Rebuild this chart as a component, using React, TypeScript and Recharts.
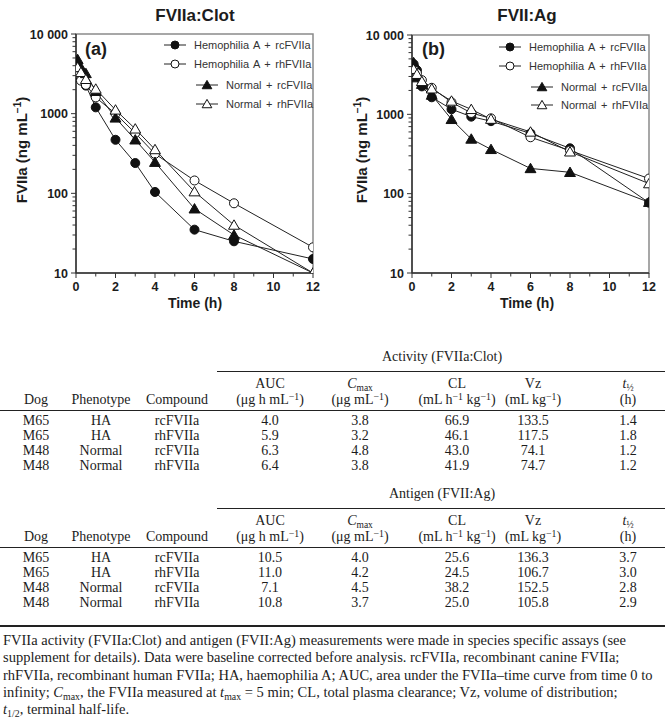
import React from 'react';
import { LineChart, Line, XAxis, YAxis, ReferenceArea } from 'recharts';

// ---------- data ----------
const times = [0.083, 0.25, 0.5, 1, 2, 3, 4, 6, 8, 12];

// FVIIa:Clot (ng/mL)
const clotHemRc = [3800, 2860, 2250, 1200, 470, 240, 104, 35, 25, 15];
const clotHemRh = [3200, 2600, 2300, 1600, 1000, 570, 313, 145, 75, 21];
const clotNorRc = [4800, 3800, 3200, 1910, 885, 470, 246, 64, 30, 10];
const clotNorRh = [3800, 3300, 2700, 2040, 1115, 645, 355, 105, 40, 10];

// FVII:Ag (ng/mL)
const agHemRc = [4300, 3600, 2250, 1640, 1160, 935, 820, 575, 373, 77];
const agHemRh = [4000, 3300, 2700, 2160, 1420, 1040, 890, 514, 350, 155];
const agNorRc = [4500, 2900, 2400, 1750, 865, 489, 362, 208, 186, 78];
const agNorRh = [3700, 3200, 2600, 2100, 1473, 1156, 870, 600, 337, 134];

const seriesNames = ['Hemophilia A + rcFVIIa', 'Hemophilia A + rhFVIIa', 'Normal + rcFVIIa', 'Normal + rhFVIIa'];
const markerTypes = ['circleFilled', 'circleOpen', 'triFilled', 'triOpen'];

const xTicks = [0, 1, 2, 3, 4, 5, 6, 7, 8, 9, 10, 11, 12];
const yDecades = [10, 100, 1000, 10000];
const yDecadeLabels = ['10', '100', '1000', '10 000'];
const yMultipliers = [1, 2, 3, 4, 5, 6, 7, 8, 9];

// table data
const dogs = ['M65', 'M65', 'M48', 'M48'];
const phenotypes = ['HA', 'HA', 'Normal', 'Normal'];
const compounds = ['rcFVIIa', 'rhFVIIa', 'rcFVIIa', 'rhFVIIa'];
const clotAUC = ['4.0', '5.9', '6.3', '6.4'];
const clotCmax = ['3.8', '3.2', '4.8', '3.8'];
const clotCL = ['66.9', '46.1', '43.0', '41.9'];
const clotVz = ['133.5', '117.5', '74.1', '74.7'];
const clotT12 = ['1.4', '1.8', '1.2', '1.2'];
const agAUC = ['10.5', '11.0', '7.1', '10.8'];
const agCmax = ['4.0', '4.2', '4.5', '3.7'];
const agCL = ['25.6', '24.5', '38.2', '25.0'];
const agVz = ['136.3', '106.7', '152.5', '105.8'];
const agT12 = ['3.7', '3.0', '2.8', '2.9'];

// ---------- helpers ----------
const yTicksAll: number[] = [];
yDecades.slice(0, 3).forEach((d) => yMultipliers.forEach((m) => yTicksAll.push(d * m)));
yTicksAll.push(10000);

function buildRows(series: number[][]) {
  return times.map((t, i) => {
    const row: any = { t };
    series.forEach((s, k) => (row['s' + k] = s[i]));
    return row;
  });
}

const SANS = '"Liberation Sans", Arial, Helvetica, sans-serif';
const SERIF = '"Liberation Serif", "Times New Roman", Times, serif';
const INK = '#1c1c1c';

function Marker({ cx, cy, type, r = 4.5 }: any) {
  if (cx == null || cy == null || isNaN(cx) || isNaN(cy)) return null;
  const filled = type.endsWith('Filled');
  const fill = filled ? '#111' : '#fff';
  if (type.startsWith('circle')) {
    return <circle cx={cx} cy={cy} r={r} fill={fill} stroke="#111" strokeWidth={1} />;
  }
  const h = r * 1.1;
  return (
    <polygon
      points={`${cx},${cy - h * 1.05} ${cx - h * 1.1},${cy + h * 0.85} ${cx + h * 1.1},${cy + h * 0.85}`}
      fill={fill}
      stroke="#111"
      strokeWidth={1}
    />
  );
}

function YTick(props: any) {
  const { x, y, payload } = props;
  const v = payload.value;
  const idx = yDecades.indexOf(v);
  const major = idx >= 0;
  return (
    <g>
      <line x1={x - (major ? 5 : 3.5)} x2={x} y1={y} y2={y} stroke="#333" strokeWidth={1} />
      {major && (
        <text x={x - 8} y={y} dy={4.5} textAnchor="end" fontFamily={SANS} fontWeight="bold" fontSize={12.5} fill={INK}>
          {yDecadeLabels[idx]}
        </text>
      )}
    </g>
  );
}

function XTick(props: any) {
  const { x, y, payload } = props;
  const v = payload.value;
  const major = v % 2 === 0;
  return (
    <g>
      <line x1={x} x2={x} y1={y} y2={y + (major ? 5 : 3.5)} stroke="#333" strokeWidth={1} />
      {major && (
        <text x={x} y={y + 18} textAnchor="middle" fontFamily={SANS} fontWeight="bold" fontSize={12.5} fill={INK}>
          {v}
        </text>
      )}
    </g>
  );
}

function LegendSwatch({ type }: any) {
  return (
    <svg width={22} height={12} style={{ display: 'block' }}>
      <line x1={0} x2={22} y1={6} y2={6} stroke="#222" strokeWidth={1} />
      <Marker cx={11} cy={6} type={type} r={4} />
    </svg>
  );
}

function PKPanel({ series, left, width, yAxisWidth, rightMargin, topMargin, title, titleX, panel, panelX, yLabelX, legendLeftA, legendLeftB, legendRows }: any) {
  const data = buildRows(series);
  const height = 310;
  return (
    <div style={{ position: 'absolute', left, top: 0, width, height }}>
      <LineChart width={width} height={height} data={data} margin={{ top: topMargin, right: rightMargin, bottom: 7, left: 0 }}>
        <ReferenceArea x1={0} x2={12} y1={10} y2={10000} fill="none" fillOpacity={0} stroke="#8a8a8a" strokeWidth={1.5} ifOverflow="visible" />
        <XAxis
          dataKey="t"
          type="number"
          domain={[0, 12]}
          ticks={xTicks}
          interval={0}
          height={30}
          tickSize={0}
          tickMargin={0}
          tick={<XTick />}
          axisLine={{ stroke: '#333', strokeWidth: 1.5 }}
          tickLine={false}
          allowDataOverflow
        />
        <YAxis
          type="number"
          scale="log"
          domain={[10, 10000]}
          ticks={yTicksAll}
          interval={0}
          width={yAxisWidth}
          tickSize={0}
          tickMargin={0}
          tick={<YTick />}
          axisLine={{ stroke: '#333', strokeWidth: 1.5 }}
          tickLine={false}
          allowDataOverflow
        />
        {markerTypes.map((mt, k) => (
          <Line
            key={mt}
            dataKey={'s' + k}
            stroke="#222"
            strokeWidth={1}
            isAnimationActive={false}
            dot={(p: any) => <Marker key={`${mt}-${p.index}`} cx={p.cx} cy={p.cy} type={mt} />}
            activeDot={false}
          />
        ))}
      </LineChart>
      {/* title */}
      <div style={{ position: 'absolute', left: titleX, top: 16, transform: 'translate(-50%, -50%)', fontFamily: SANS, fontWeight: 'bold', fontSize: 17, color: INK, whiteSpace: 'nowrap' }}>
        {title}
      </div>
      {/* panel label */}
      <div style={{ position: 'absolute', left: panelX, top: 49, transform: 'translateY(-50%)', fontFamily: SANS, fontWeight: 'bold', fontSize: 18, color: INK }}>
        {panel}
      </div>
      {/* y label */}
      <div style={{ position: 'absolute', left: yLabelX, top: 150, transform: 'translate(-50%, -50%) rotate(-90deg)', fontFamily: SANS, fontWeight: 'bold', fontSize: 15, color: INK, whiteSpace: 'nowrap' }}>
        FVIIa (ng mL<span style={{ fontSize: 10, position: 'relative', top: -6 }}>−1</span>)
      </div>
      {/* x label */}
      <div style={{ position: 'absolute', left: titleX, top: 303, transform: 'translate(-50%, -50%)', fontFamily: SANS, fontWeight: 'bold', fontSize: 14, color: INK, whiteSpace: 'nowrap' }}>
        Time (h)
      </div>
      {/* legend */}
      {seriesNames.map((name, k) => (
        <div key={name} style={{ position: 'absolute', left: k < 2 ? legendLeftA : legendLeftB, top: legendRows[k], transform: 'translateY(-50%)', display: 'flex', alignItems: 'center', fontFamily: SANS, fontSize: 11, color: '#333', whiteSpace: 'nowrap', wordSpacing: 1.5 }}>
          <LegendSwatch type={markerTypes[k]} />
          <span style={{ marginLeft: 8 }}>{name}</span>
        </div>
      ))}
    </div>
  );
}

// ---------- table ----------
const colX = { dog: 36, phen: 101, comp: 177, auc: 270, cmax: 360, cl: 457, vz: 533, t12: 628 };
const TABLE_FS = 14;

function Cell({ x, y, children, size = TABLE_FS }: any) {
  return (
    <div style={{ position: 'absolute', left: x, top: y - 8, height: 16, lineHeight: '16px', transform: 'translateX(-50%)', whiteSpace: 'nowrap', fontFamily: SERIF, fontSize: size, color: INK }}>
      {children}
    </div>
  );
}

const sup = (s: string) => <span style={{ fontSize: '0.7em', position: 'relative', top: '-0.45em' }}>{s}</span>;
const sub = (s: string) => <span style={{ fontSize: '0.68em', position: 'relative', top: '0.3em' }}>{s}</span>;

function HLine({ x1, x2, y, w = 1 }: any) {
  return <div style={{ position: 'absolute', left: x1, top: y - w / 2, width: x2 - x1, height: w, background: '#222' }} />;
}

function PKTable({ top, title, auc, cmax, cl, vz, t12 }: any) {
  const rowsY = [top + 64, top + 79, top + 94, top + 109];
  return (
    <>
      <Cell x={442} y={top}>{title}</Cell>
      <HLine x1={217} x2={665} y={top + 14} />
      <Cell x={colX.auc} y={top + 27}>AUC</Cell>
      <Cell x={colX.cmax} y={top + 27}><i>C</i>{sub('max')}</Cell>
      <Cell x={colX.cl} y={top + 27}>CL</Cell>
      <Cell x={colX.vz} y={top + 27}>Vz</Cell>
      <Cell x={colX.t12} y={top + 27}><i>t</i>{sub('½')}</Cell>
      <Cell x={colX.dog} y={top + 43}>Dog</Cell>
      <Cell x={colX.phen} y={top + 43}>Phenotype</Cell>
      <Cell x={colX.comp} y={top + 43}>Compound</Cell>
      <Cell x={colX.auc} y={top + 43}>(μg h mL{sup('−1')})</Cell>
      <Cell x={colX.cmax} y={top + 43}>(μg mL{sup('−1')})</Cell>
      <Cell x={colX.cl} y={top + 43}>(mL h{sup('−1')} kg{sup('−1')})</Cell>
      <Cell x={colX.vz} y={top + 43}>(mL kg{sup('−1')})</Cell>
      <Cell x={colX.t12} y={top + 43}>(h)</Cell>
      <HLine x1={0} x2={665} y={top + 53} />
      {dogs.map((d, i) => (
        <React.Fragment key={i}>
          <Cell x={colX.dog} y={rowsY[i]}>{d}</Cell>
          <Cell x={colX.phen} y={rowsY[i]}>{phenotypes[i]}</Cell>
          <Cell x={colX.comp} y={rowsY[i]}>{compounds[i]}</Cell>
          <Cell x={colX.auc} y={rowsY[i]}>{auc[i]}</Cell>
          <Cell x={colX.cmax} y={rowsY[i]}>{cmax[i]}</Cell>
          <Cell x={colX.cl} y={rowsY[i]}>{cl[i]}</Cell>
          <Cell x={colX.vz} y={rowsY[i]}>{vz[i]}</Cell>
          <Cell x={colX.t12} y={rowsY[i]}>{t12[i]}</Cell>
        </React.Fragment>
      ))}
    </>
  );
}

const footLines: any[] = [
  <>FVIIa activity (FVIIa:Clot) and antigen (FVII:Ag) measurements were made in species specific assays (see</>,
  <>supplement for details). Data were baseline corrected before analysis. rcFVIIa, recombinant canine FVIIa;</>,
  <>rhFVIIa, recombinant human FVIIa; HA, haemophilia A; AUC, area under the FVIIa–time curve from time 0 to</>,
  <>infinity; <i>C</i>{sub('max')}, the FVIIa measured at <i>t</i>{sub('max')} = 5 min; CL, total plasma clearance; Vz, volume of distribution;</>,
  <><i>t</i>{sub('1/2')}, terminal half-life.</>,
];

export default function App() {
  return (
    <div style={{ position: 'absolute', left: 0, top: 0, width: 665, height: 722, background: '#fff', overflow: 'hidden' }}>
      <PKPanel
        series={[clotHemRc, clotHemRh, clotNorRc, clotNorRh]}
        left={0}
        width={330}
        yAxisWidth={76}
        rightMargin={17}
        topMargin={34}
        title="FVIIa:Clot"
        titleX={195}
        panel="(a)"
        panelX={85}
        yLabelX={21}
        legendLeftA={164}
        legendLeftB={196}
        legendRows={[45, 64, 85, 104]}
      />
      <PKPanel
        series={[agHemRc, agHemRh, agNorRc, agNorRh]}
        left={330}
        width={335}
        yAxisWidth={82}
        rightMargin={16}
        topMargin={35}
        title="FVII:Ag"
        titleX={197}
        panel="(b)"
        panelX={92}
        yLabelX={31}
        legendLeftA={169}
        legendLeftB={201}
        legendRows={[47, 66, 87, 105]}
      />
      <PKTable top={357} title="Activity (FVIIa:Clot)" auc={clotAUC} cmax={clotCmax} cl={clotCL} vz={clotVz} t12={clotT12} />
      <PKTable top={494} title="Antigen (FVII:Ag)" auc={agAUC} cmax={agCmax} cl={agCL} vz={agVz} t12={agT12} />
      <HLine x1={0} x2={665} y={626} w={2} />
      {footLines.map((ln, i) => (
        <div key={i} style={{ position: 'absolute', left: 3, top: 640 + i * 17.3 - 9, height: 18, lineHeight: '18px', whiteSpace: 'nowrap', fontFamily: SERIF, fontSize: 14.5, color: INK }}>
          {ln}
        </div>
      ))}
    </div>
  );
}
